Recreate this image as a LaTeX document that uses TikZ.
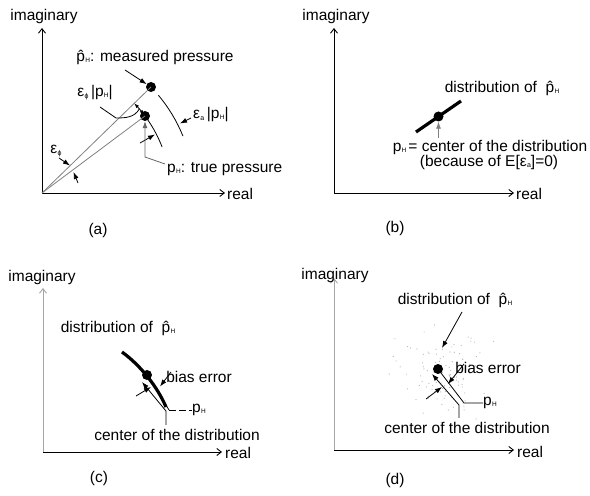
\documentclass[tikz,border=0pt]{standalone}
\usepackage{fontspec}
\setmainfont{Liberation Sans}
\usetikzlibrary{arrows.meta,calc}
\newcommand\sH{\kern0.3pt\raisebox{-1pt}{\fontsize{6.5}{6.5}\selectfont H}}
\newcommand\pH{p\sH}
\newcommand\phH{\^{p}\sH}
\newcommand\sbs[1]{\kern0.3pt\raisebox{-1.5pt}{\fontsize{7}{7}\selectfont #1}}
\begin{document}
\begin{tikzpicture}[x=1pt,y=1pt,
 lbl/.style={font=\fontsize{15.5}{17}\selectfont, inner sep=0pt},
 axis/.style={line width=0.9pt, -{Straight Barb[length=4.5pt,width=7pt]}},
 faint/.style={gray!70},
 thinl/.style={line width=0.8pt},
 lead/.style={line width=0.8pt, -{Latex[length=7pt,width=5pt]}},
 sarr/.style={line width=0.8pt, {Latex[length=5pt,width=3.5pt]}-{Latex[length=5pt,width=3.5pt]}},
 pt/.style={circle, fill=black, inner sep=0pt, minimum size=10pt},
 distr/.style={line width=3.2pt}
]
\useasboundingbox (0,0) rectangle (590,496);

% ---------------- (a)
\coordinate (Oa) at (42,303);
\coordinate (Ya) at (42,468);
\coordinate (Xa) at (225,303);
\draw[axis] (Oa) -- (Ya);
\draw[axis] (Oa) -- (Xa);
\node[lbl] (imA) at (44,480) {imaginary};
\node[lbl,anchor=west] (reA) at (227,302) {real};
\node[lbl] (capA) at (98,266) {(a)};
\node[pt] (Ma) at (151,409) {};
\node[pt] (Ta) at (145,380) {};
\draw[thinl,gray] (Oa) -- (Ma.center);
\draw[thinl,gray] (Oa) -- (Ta.center);
\draw[thinl] ($(Oa)+(40:152)$) arc[start angle=40,end angle=22,radius=152];
\draw[thinl] ($(Oa)+(35:128.6)$) arc[start angle=35,end angle=21,radius=128.6];
\draw[sarr] ($(Oa)+(44.2:128.6)$) coordinate (arcA1) arc[start angle=44.2,end angle=37.4,radius=128.6];
\coordinate (arcAm) at ($(Oa)+(40.8:128.6)$);
% epsilon_phi angle arrows
\node[lbl] (ephA) at (56,345) {ε\sbs{ϕ}};
\coordinate (ephA1s) at (59,338); \coordinate (ephA1e) at (70,330.5);
\coordinate (ephA2s) at (78,313); \coordinate (ephA2e) at (73.5,324);
\draw[lead] (ephA1s) -- (ephA1e);
\draw[lead] (ephA2s) -- (ephA2e);
% epsilon_phi |p_H|
\node[lbl] (ephpA) at (95,403) {ε\sbs{ϕ}\,|\pH|};
\coordinate (lA1) at (100,389); \coordinate (lA2) at (116,378);
\draw[thinl] (lA1) -- (lA2) to[out=0,in=-120] (arcAm);
% epsilon_a |p_H|
\node[lbl,anchor=west] (eapA) at (193,381) {ε\sbs{a}\,|\pH|};
\coordinate (eaA1) at (191,378); \coordinate (eaA2) at (180,372.5);
\draw[lead] (eaA1) -- (eaA2);
\coordinate (inA1) at (140,353); \coordinate (inA2) at (155,361.5);
\draw[lead] (inA1) -- (inA2);
% labels with leaders
\node[lbl] (measA) at (155,439) {\phH: measured pressure};
\coordinate (mA1) at (125,426);
\draw[lead] (mA1) -- (Ma);
\node[lbl,anchor=west] (trueA) at (167,327) {\pH: true pressure};
\coordinate (tA1) at (165,332); \coordinate (tA2) at (145,339);
\draw[lead,gray!80!black] (tA1) -- (tA2) -- (Ta);

% ---------------- (b)
\coordinate (Ob) at (334,303);
\coordinate (Yb) at (334,468);
\coordinate (Xb) at (514,303);
\draw[axis] (Ob) -- (Yb);
\draw[axis] (Ob) -- (Xb);
\node[lbl] (imB) at (336,480) {imaginary};
\node[lbl,anchor=west] (reB) at (516,302) {real};
\node[lbl] (capB) at (395,268) {(b)};
\coordinate (dB1) at (416,364); \coordinate (dB2) at (461,395);
\draw[distr] (dB1) -- (dB2);
\node[pt] (Pb) at (438.5,379.5) {};
\node[lbl] (distB) at (502,408) {distribution of \ \phH};
\node[lbl] (cenB) at (490,349) {\pH\kern2pt= center of the distribution};
\node[lbl] (becB) at (489,334) {(because of E[ε\sbs{a}]=0)};
\coordinate (aB) at (438.5,358);
\draw[lead,gray] (aB) -- (Pb);

% ---------------- (c)
\coordinate (Oc) at (43,44);
\coordinate (Yc) at (43,208);
\coordinate (Xc) at (222,44);
\draw[axis,faint] (Oc) -- (Yc);
\draw[axis] (Oc) -- (Xc);
\node[lbl] (imC) at (42,219) {imaginary};
\node[lbl,anchor=west] (reC) at (225,43) {real};
\node[lbl] (capC) at (99,18) {(c)};
\node[lbl] (distC) at (118,168) {distribution of \ \phH};
\coordinate (dC1) at (122,144); \coordinate (dC2) at (166,89);
\draw[distr] (dC1) .. controls (140,131) and (157,110) .. (dC2);
\node[pt] (Pc) at (147,121) {};
\node[lbl] (biasC) at (199,119) {bias error};
\node[lbl,anchor=west] (pC) at (192,86) {\pH};
\node[lbl] (cenC) at (177,61) {center of the distribution};
\coordinate (cC1) at (166,71); \coordinate (cC2) at (166,85); \coordinate (cC3) at (142,114);
\draw[lead] (cC1) -- (cC2) -- (cC3);
\coordinate (pC1) at (150.5,116); \coordinate (pC2) at (169,86);
\draw[thinl] (pC1) -- (pC2);
\draw[thinl,dash pattern=on 7pt off 3pt] (pC2) -- (pC.west);
\coordinate (bC1) at (171,124); \coordinate (bC2) at (160,109.5);
\coordinate (bC3) at (136,100); \coordinate (bC4) at (151,109);
\draw[lead] (bC1) -- (bC2);
\draw[lead] (bC3) -- (bC4);

% ---------------- (d)
\coordinate (Od) at (334,46);
\coordinate (Yd) at (334,218);
\coordinate (Xd) at (514,46);
\draw[axis,faint] (Od) -- (Yd);
\draw[axis] (Od) -- (Xd);
\node[lbl] (imD) at (335,221) {imaginary};
\node[lbl,anchor=west] (reD) at (517,44) {real};
\node[lbl] (capD) at (395,16) {(d)};
\pgfmathsetseed{11}
\foreach \i in {1,...,110}{
  \pgfmathsetmacro\dx{20*(rand+rand+rand)}
  \pgfmathsetmacro\dy{20*(rand+rand+rand)}
  \fill[gray!60] ($(440,124)+(\dx,\dy)$) circle[radius=0.6pt];
}
\node[pt] (Pd) at (438,127) {};
\node[lbl] (distD) at (455,196) {distribution of \ \phH};
\coordinate (aD) at (462,184);
\draw[lead] (aD) -- (442,148) coordinate (aDe);
\node[lbl] (biasD) at (488,128) {bias error};
\node[lbl,anchor=west] (pD) at (483,93) {\pH};
\node[lbl] (cenD) at (467,68) {center of the distribution};
\coordinate (uD1) at (441,123); \coordinate (uD2) at (464,93);
\draw[thinl] (uD1) -- (uD2) -- (pD.west);
\coordinate (lD1) at (459,78); \coordinate (lD2) at (459,91); \coordinate (lD3) at (432,122);
\draw[lead] (lD1) -- (lD2) -- (lD3);
\coordinate (bD1) at (464,132); \coordinate (bD2) at (448,112);
\coordinate (bD3) at (426,97); \coordinate (bD4) at (442,109);
\draw[lead] (bD1) -- (bD2);
\draw[lead] (bD3) -- (bD4);
\end{tikzpicture}
\end{document}
